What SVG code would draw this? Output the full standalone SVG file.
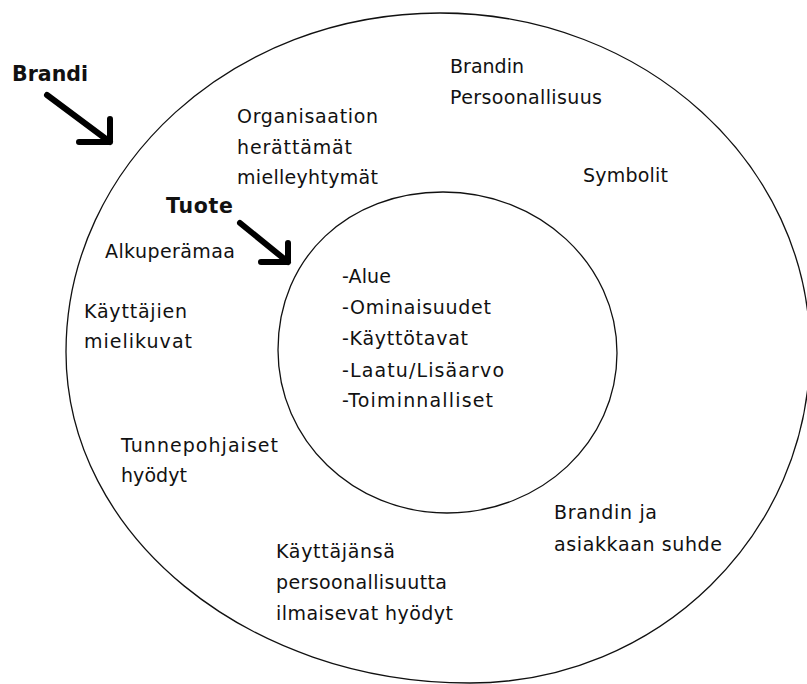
<svg xmlns="http://www.w3.org/2000/svg" width="807" height="684" viewBox="0 0 807 684">
<style>
.ring{fill:none;stroke:#111;stroke-width:1.3}
.t{font-family:"DejaVu Sans",sans-serif;font-size:19px;fill:#111}
.b{font-family:"DejaVu Sans",sans-serif;font-size:20.5px;font-weight:bold;fill:#111}
.arr{fill:none;stroke:#000;stroke-width:6;stroke-linecap:round;stroke-linejoin:round}
</style>
<rect width="807" height="684" fill="#fff"/>
<g id="brandi">
<path class="ring" d="M440,13 C644,13 810,164 810,350 C810,534 658,683 470,683 C247,683 66,535 66,352 C66,165 233,13 440,13 Z"/>
<text class="b" x="12" y="81" textLength="76" lengthAdjust="spacing">Brandi</text>
<text class="t" x="450" y="73" textLength="74" lengthAdjust="spacing">Brandin</text>
<text class="t" x="450" y="104" textLength="152" lengthAdjust="spacing">Persoonallisuus</text>
<text class="t" x="237" y="123" textLength="141" lengthAdjust="spacing">Organisaation</text>
<text class="t" x="237" y="154" textLength="115" lengthAdjust="spacing">herättämät</text>
<text class="t" x="237" y="184" textLength="141" lengthAdjust="spacing">mielleyhtymät</text>
<text class="t" x="583" y="182" textLength="85" lengthAdjust="spacing">Symbolit</text>
<text class="t" x="105" y="258" textLength="130" lengthAdjust="spacing">Alkuperämaa</text>
<text class="t" x="84" y="318" textLength="103" lengthAdjust="spacing">Käyttäjien</text>
<text class="t" x="84" y="348" textLength="108" lengthAdjust="spacing">mielikuvat</text>
<text class="t" x="121" y="452" textLength="157" lengthAdjust="spacing">Tunnepohjaiset</text>
<text class="t" x="121" y="482" textLength="66" lengthAdjust="spacing">hyödyt</text>
<text class="t" x="554" y="519" textLength="103" lengthAdjust="spacing">Brandin ja</text>
<text class="t" x="554" y="551" textLength="168" lengthAdjust="spacing">asiakkaan suhde</text>
<text class="t" x="276" y="558" textLength="119" lengthAdjust="spacing">Käyttäjänsä</text>
<text class="t" x="276" y="589" textLength="171" lengthAdjust="spacing">persoonallisuutta</text>
<text class="t" x="276" y="620" textLength="177" lengthAdjust="spacing">ilmaisevat hyödyt</text>
</g>
<g id="tuote">
<path class="ring" d="M443,192 C539,192 617,264 617,353 C617,442 541,513 447,513 C353,513 278,440 278,350 C278,257 349,192 443,192 Z"/>
<text class="b" x="166" y="213" textLength="67" lengthAdjust="spacing">Tuote</text>
<text class="t" x="342" y="283" textLength="49" lengthAdjust="spacing">-Alue</text>
<text class="t" x="342" y="314" textLength="149" lengthAdjust="spacing">-Ominaisuudet</text>
<text class="t" x="342" y="345" textLength="126" lengthAdjust="spacing">-Käyttötavat</text>
<text class="t" x="342" y="377" textLength="162" lengthAdjust="spacing">-Laatu/Lisäarvo</text>
<text class="t" x="342" y="407" textLength="151" lengthAdjust="spacing">-Toiminnalliset</text>
</g>
<g id="connectors">
<path class="arr" d="M47,95 L110,142 M110,119 L110,142 L79,142"/>
<path class="arr" d="M240,223 L288,262 M288,243 L288,262 L261,262"/>
</g>
</svg>
